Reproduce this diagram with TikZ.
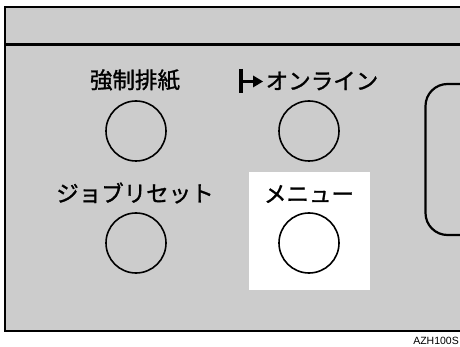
\documentclass[tikz,border=0pt]{standalone}
\usepackage{fontspec}
\setmainfont{Liberation Sans}
\newfontfamily\jp[FakeBold=1.2]{Noto Sans CJK JP}
\definecolor{panelgray}{HTML}{CCCCCC}
\begin{document}
\begin{tikzpicture}[x=1pt,y=-1pt,
  btn/.style={circle,draw=black,line width=1.6pt,minimum size=60pt,inner sep=0pt},
  lbl/.style={font=\jp\fontsize{22.5}{24}\selectfont,inner sep=0pt,anchor=center},
  tag/.style={font=\fontsize{10.5}{12}\selectfont,inner sep=0pt,anchor=east}]
\useasboundingbox (0,0) rectangle (460,347);
\fill[white] (0,0) rectangle (460,347);
% panel
\draw[line width=2.6pt,fill=panelgray] (5,7) rectangle (480,331);
\draw[line width=2.6pt] (5,44.5) -- (480,44.5);
% highlighted area
\fill[white] (249,172) rectangle (370,290);
% display window
\draw[line width=2.2pt,rounded corners=22pt] (500,84) -- (425.5,84) -- (425.5,235) -- (500,235);
% buttons
\node[btn] (b1) at (136,131) {};
\node[btn] (b2) at (309,131) {};
\node[btn] (b3) at (136,243) {};
\node[btn,fill=white] (b4) at (309,243) {};
% labels
\node[lbl] (l1) at (135,80) {強制排紙};
\node[lbl] (l2) at (322,81) {オンライン};
\node[lbl] (l3) at (135,193) {ジョブリセット};
\node[lbl] (l4) at (309,194) {メニュー};
% online symbol
\coordinate (s1) at (240.5,69);
\coordinate (s2) at (240.5,93);
\coordinate (s3) at (242,81.5);
\coordinate (s4) at (255,81.5);
\draw[line width=4pt] (s1) -- (s2);
\draw[line width=3pt] (s3) -- (s4);
\fill (263,81.5) -- (253,75.5) -- (253,87.5) -- cycle;
% code
\node[tag] (code) at (459,341) {AZH100S};
\end{tikzpicture}
\end{document}
